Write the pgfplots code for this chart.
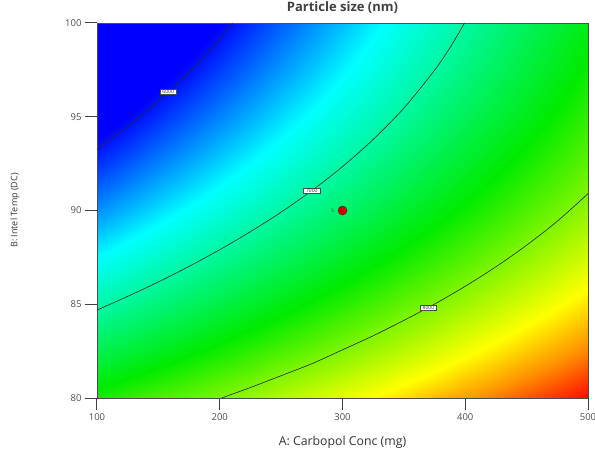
\documentclass[border=0pt]{standalone}
\usepackage{fontspec}
\setmainfont{Open Sans}
\usepackage{pgfplots}
\usepackage{pgfplotstable}
\pgfplotsset{compat=1.18}

\pgfplotstableread{
x y f
100 80 7666
150 80 7831
200 80 7995
250 80 8160
300 80 8324
350 80 8489
400 80 8653
450 80 8818
500 80 8982

100 82.5 7300
150 82.5 7477
200 82.5 7654
250 82.5 7831
300 82.5 8008
350 82.5 8185
400 82.5 8362
450 82.5 8539
500 82.5 8716

100 85 6959
150 85 7148
200 85 7338
250 85 7527
300 85 7717
350 85 7906
400 85 8096
450 85 8285
500 85 8475

100 87.5 6641
150 87.5 6843
200 87.5 7045
250 87.5 7247
300 87.5 7449
350 87.5 7651
400 87.5 7853
450 87.5 8055
500 87.5 8257

100 90 6348
150 90 6563
200 90 6777
250 90 6992
300 90 7206
350 90 7421
400 90 7635
450 90 7850
500 90 8064

100 92.5 6079
150 92.5 6306
200 92.5 6533
250 92.5 6760
300 92.5 6987
350 92.5 7214
400 92.5 7441
450 92.5 7668
500 92.5 7895

100 95 5834
150 95 6073
200 95 6313
250 95 6552
300 95 6792
350 95 7031
400 95 7271
450 95 7510
500 95 7750

100 97.5 5613
150 97.5 5865
200 97.5 6117
250 97.5 6369
300 97.5 6621
350 97.5 6873
400 97.5 7125
450 97.5 7377
500 97.5 7629

100 100 5416
150 100 5681
200 100 5945
250 100 6210
300 100 6474
350 100 6739
400 100 7003
450 100 7268
500 100 7532
}\fielddata

\begin{document}
\begin{tikzpicture}
% colour field
\begin{axis}[
  scale only axis,
  width=491pt, height=375pt,
  xmin=100, xmax=500, ymin=80, ymax=100,
  hide axis,
  colormap={dexp}{rgb255(0cm)=(0,0,255); rgb255(0.55cm)=(0,0,255); rgb255(1.25cm)=(0,255,255); rgb255(2.2cm)=(0,235,0); rgb255(3.0cm)=(255,255,0); rgb255(3.3cm)=(255,140,0); rgb255(3.6cm)=(255,0,0)},
  point meta min=5400, point meta max=9000,
  clip=true,
]
\addplot[surf, shader=interp, mesh/cols=9, point meta=explicit] table[x=x, y=y, meta=f] {\fielddata};
\end{axis}
% frame, ticks, contours, design point
\begin{axis}[
  scale only axis,
  width=491pt, height=375pt,
  xmin=100, xmax=500, ymin=80, ymax=100,
  xtick={100,200,300,400,500},
  ytick={80,85,90,95,100},
  xtick pos=left, ytick pos=left,
  tick align=outside,
  major tick length=12pt,
  major tick style={draw=black!75, line width=1pt},
  axis line style={draw=black!70, line width=0.6pt},
  ticklabel style={font=\fontsize{9.5}{10}\selectfont, text=black!70},
  /pgf/number format/assume math mode=true,
  /pgf/number format/1000 sep={},
  title={Particle size (nm)},
  title style={at={(axis description cs:0.5,1.024)}, anchor=center, font=\bfseries\fontsize{13}{14}\selectfont, text=black!75},
  xlabel={A: Carbopol Conc (mg)},
  ylabel={B: Intel Temp (DC)},
  xlabel style={at={(axis description cs:0.5,-0.117)}, anchor=center, font=\fontsize{12.3}{13}\selectfont, text=black!80},
  ylabel style={at={(axis description cs:-0.167,0.5)}, anchor=center, rotate=0, font=\fontsize{9}{10}\selectfont, text=black!80},
  clip=true,
]
\addplot[smooth, black!85, line width=0.6pt] coordinates {(100,93.28) (112.5,93.87) (125,94.49) (137.5,95.15) (150,95.85) (162.5,96.59) (175,97.38) (187.5,98.23) (200,99.16) (210.4,100)};
\addplot[smooth, black!85, line width=0.6pt] coordinates {(100,84.69) (125,85.42) (150,86.19) (175,87.02) (200,87.91) (225,88.87) (250,89.91) (275,91.06) (300,92.34) (325,93.79) (350,95.46) (375,97.48) (387.5,98.68) (399.4,100)};
\addplot[smooth, black!85, line width=0.6pt] coordinates {(201.5,80) (225,80.56) (250,81.19) (275,81.83) (300,82.57) (325,83.32) (350,84.14) (375,85.01) (400,85.96) (425,87.0) (450,88.15) (475,89.43) (500,90.90)};

\addplot[draw=none, mark=none, point meta=explicit symbolic,
  nodes near coords, nodes near coords align={center},
  every node near coord/.style={anchor=center, fill=white, draw=black!70, line width=0.4pt, inner xsep=2.5pt, inner ysep=1pt, font=\fontsize{5}{5}\selectfont, text=black!80}]
  coordinates {(158,96.34)[6000] (275,91.06)[7000] (370,84.81)[8000]};

\addplot[only marks, mark=*, mark size=4.5pt, mark options={fill=red!85!black, draw=black!80, line width=0.5pt},
  point meta=explicit symbolic, nodes near coords,
  every node near coord/.style={anchor=east, xshift=-5pt, font=\fontsize{5}{5}\selectfont, text=black!80}]
  coordinates {(300,90)[5]};
\coordinate (bl) at (rel axis cs:0,0);
\coordinate (tr) at (rel axis cs:1,1);
\end{axis}
\pgfresetboundingbox
\path[use as bounding box] ([xshift=-97pt,yshift=-55pt]bl) rectangle ([xshift=7pt,yshift=23pt]tr);
\end{tikzpicture}
\end{document}
